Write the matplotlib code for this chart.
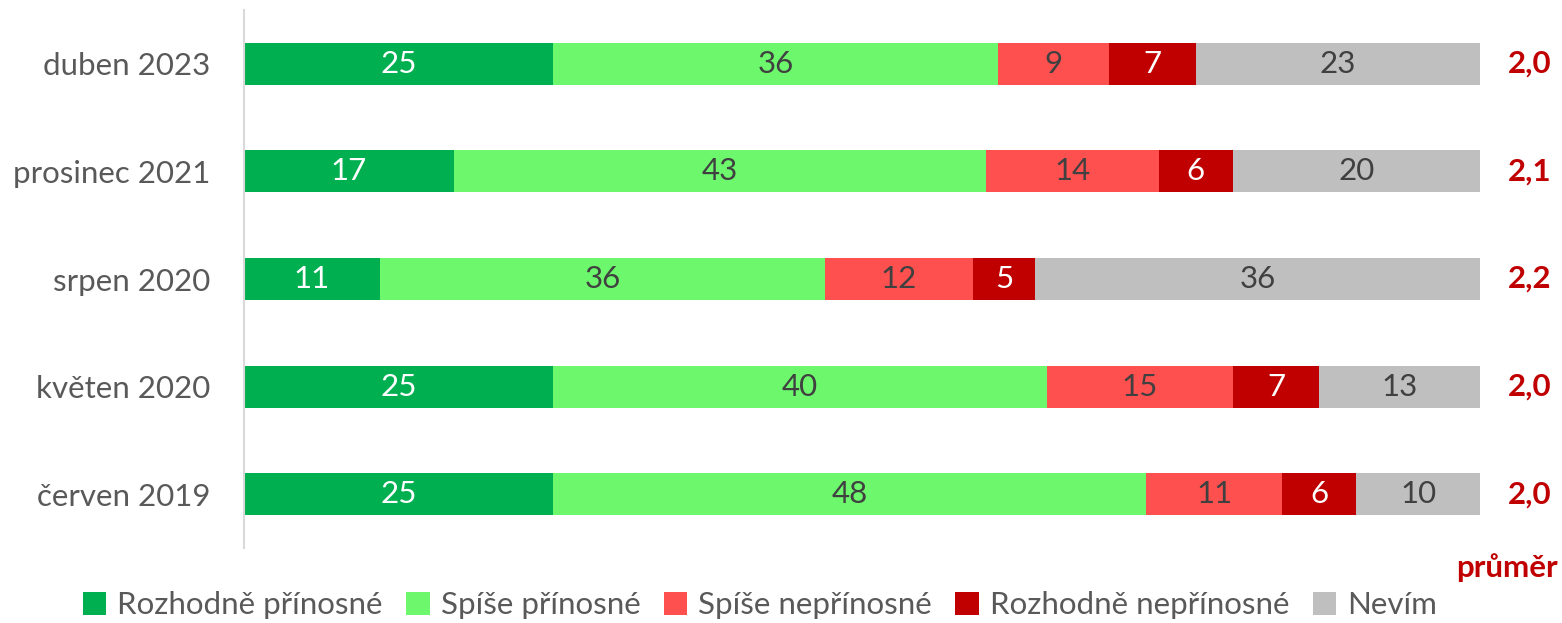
import numpy as np
import matplotlib.pyplot as plt
from matplotlib.patches import Patch

plt.rcParams['font.family'] = ['Lato', 'DejaVu Sans']

# data
waves = ['duben 2023', 'prosinec 2021', 'srpen 2020', 'květen 2020', 'červen 2019']
series = ['Rozhodně přínosné', 'Spíše přínosné', 'Spíše nepřínosné',
          'Rozhodně nepřínosné', 'Nevím']
values = np.array([
    [25, 36, 9, 7, 23],
    [17, 43, 14, 6, 20],
    [11, 36, 12, 5, 36],
    [25, 40, 15, 7, 13],
    [25, 48, 11, 6, 10],
])
means = ['2,0', '2,1', '2,2', '2,0', '2,0']

colors = ['#00B050', '#6CF76C', '#FF5050', '#C00000', '#BFBFBF']
txt_colors = ['white', '#404040', '#404040', 'white', '#404040']
dark_red = '#C00000'
gray_txt = '#595959'
fs = 22.5

fig = plt.figure(figsize=(15.62, 6.23), dpi=100)
ax = fig.add_axes([244/1562, 75/623, 1236/1562, 538/623])

y = np.arange(len(waves))
left = np.zeros(len(waves))
for i, s in enumerate(series):
    v = values[:, i]
    ax.barh(y, v, left=left, height=0.39, color=colors[i], label=s)
    for yy, l, vv in zip(y, left, v):
        ax.text(l + vv / 2, yy, str(vv), ha='center', va='center',
                fontsize=fs, color=txt_colors[i])
    left += v

for yy, m in zip(y, means):
    ax.text(1.04, yy, m, transform=ax.get_yaxis_transform(), ha='center',
            va='center', fontsize=fs, fontweight='bold', color=dark_red)

ax.set_xlim(0, 100)
ax.set_ylim(len(waves) - 0.5, -0.5)
ax.set_yticks(y)
ax.set_yticklabels(waves, fontsize=fs, color=gray_txt)
ax.tick_params(axis='y', length=0, pad=24)
ax.set_xticks([])
for sp in ['top', 'right', 'bottom']:
    ax.spines[sp].set_visible(False)
ax.spines['left'].set_color('#D9D9D9')
ax.spines['left'].set_linewidth(1.5)

fig.text(1558/1562, 1 - 568/623, 'průměr', ha='right', va='center',
         fontsize=fs, fontweight='bold', color=dark_red)

handles = [Patch(facecolor=c, edgecolor='none') for c in colors]
leg = fig.legend(handles, series, loc='center', bbox_to_anchor=(760/1562, 1 - 605/623),
                 ncol=5, frameon=False, fontsize=fs, handlelength=0.75,
                 handleheight=0.75, handletextpad=0.35, columnspacing=0.75)
for t in leg.get_texts():
    t.set_color(gray_txt)

fig.savefig('out.png', dpi=100)
